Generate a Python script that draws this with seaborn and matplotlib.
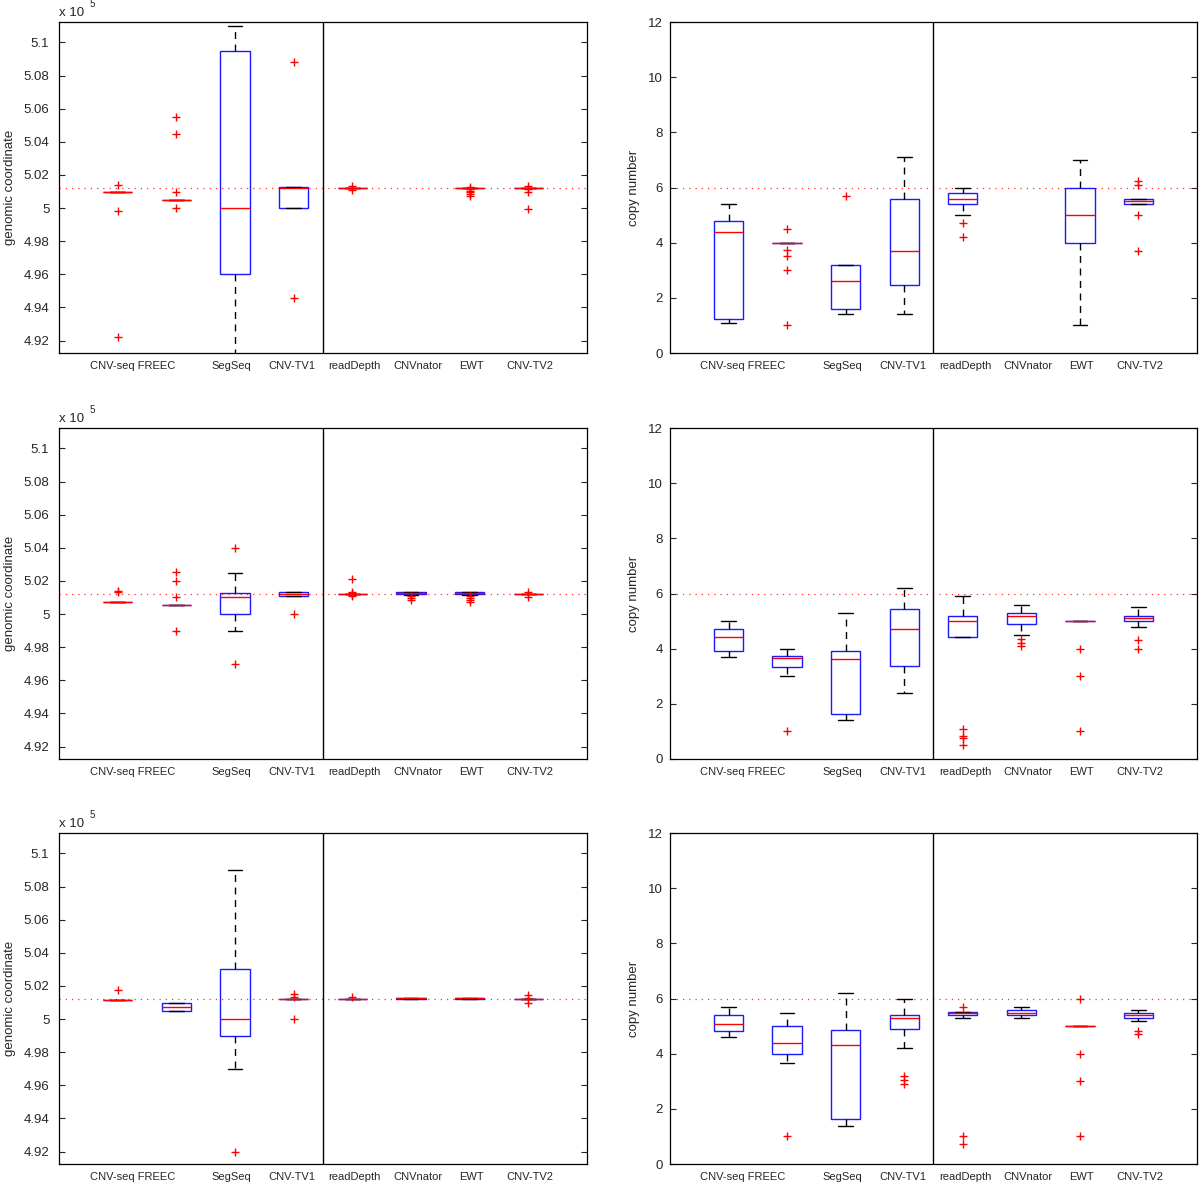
import numpy as np
import pandas as pd
import matplotlib
matplotlib.use("Agg")
import matplotlib.pyplot as plt
import seaborn as sns
from matplotlib.ticker import MultipleLocator, FuncFormatter

# ---------------- data ----------------
methods = ["CNV-seq", "FREEC", "SegSeq", "CNV-TV1", "readDepth", "CNVnator", "EWT", "CNV-TV2"]
label_text = ["CNV-seq FREEC", "SegSeq", "CNV-TV1", "readDepth", "CNVnator", "EWT", "CNV-TV2"]
label_pos = [0.25, 1.94, 2.97, 4.04, 5.12, 6.03, 7.03]

true_coord = 501220
true_copy = 6

# Row 1, genomic coordinate
coord1_lo = [501000, 500500, 490000, 500000, 501220, None, 501220, 501220]
coord1_q1 = [501000, 500500, 496000, 500000, 501220, None, 501220, 501220]
coord1_med = [501000, 500500, 500000, 501220, 501220, None, 501220, 501220]
coord1_q3 = [501000, 500500, 509500, 501300, 501220, None, 501220, 501220]
coord1_hi = [501000, 500500, 511000, 501300, 501220, None, 501220, 501220]
coord1_out = [[501400, 499800, 492200], [505500, 504500, 501000, 500000], [],
              [508800, 494600], [501350, 501100], [],
              [501300, 501150, 501050, 500950, 500850, 500750],
              [501340, 501140, 500940, 499960]]

# Row 1, copy number
copy1_lo = [1.1, 4.0, 1.4, 1.4, 5.0, None, 1.0, 5.4]
copy1_q1 = [1.25, 4.0, 1.6, 2.45, 5.4, None, 4.0, 5.4]
copy1_med = [4.4, 4.0, 2.6, 3.7, 5.6, None, 5.0, 5.5]
copy1_q3 = [4.8, 4.0, 3.2, 5.6, 5.8, None, 6.0, 5.6]
copy1_hi = [5.4, 4.0, 3.2, 7.1, 6.0, None, 7.0, 5.6]
copy1_out = [[], [4.5, 3.72, 3.5, 3.0, 1.0], [5.7], [], [4.7, 4.2], [], [],
             [6.24, 6.1, 5.0, 3.7]]

# Row 2, genomic coordinate
coord2_lo = [500720, 500520, 499000, 501100, 501240, 501140, 501140, 501240]
coord2_q1 = [500720, 500520, 500030, 501100, 501240, 501200, 501200, 501240]
coord2_med = [500720, 500520, 501020, 501220, 501240, 501260, 501250, 501240]
coord2_q3 = [500720, 500520, 501300, 501340, 501240, 501320, 501320, 501240]
coord2_hi = [500720, 500520, 502450, 501340, 501240, 501320, 501320, 501240]
coord2_out = [[501420, 501350], [502550, 502000, 501000, 499000], [504000, 497000],
              [500000], [502100, 501350, 501300, 501150, 501100],
              [501100, 500980, 500860], [501080, 500950, 500850, 500750],
              [501340, 501020]]

# Row 2, copy number
copy2_lo = [3.68, 3.0, 1.4, 2.4, 4.41, 4.5, 5.0, 4.8]
copy2_q1 = [3.92, 3.34, 1.62, 3.38, 4.41, 4.9, 5.0, 5.0]
copy2_med = [4.41, 3.67, 3.61, 4.71, 5.0, 5.2, 5.0, 5.1]
copy2_q3 = [4.71, 3.75, 3.9, 5.44, 5.19, 5.31, 5.0, 5.2]
copy2_hi = [5.0, 4.0, 5.31, 6.2, 5.9, 5.6, 5.0, 5.5]
copy2_out = [[], [1.0], [], [], [1.1, 0.85, 0.75, 0.5], [4.35, 4.2, 4.1],
             [4.0, 3.0, 1.0], [4.32, 4.0]]

# Row 3, genomic coordinate
coord3_lo = [501180, 500500, 497000, 501220, 501220, 501200, 501200, 501220]
coord3_q1 = [501180, 500500, 499000, 501220, 501220, 501200, 501200, 501220]
coord3_med = [501180, 500740, 500000, 501220, 501220, 501250, 501250, 501220]
coord3_q3 = [501180, 501000, 503000, 501220, 501220, 501300, 501300, 501220]
coord3_hi = [501180, 501000, 509000, 501220, 501220, 501300, 501300, 501220]
coord3_out = [[501780], [], [492000], [501500, 501340, 500000], [501340], [], [],
              [501440, 501280, 500980]]

# Row 3, copy number
copy3_lo = [4.59, 3.65, 1.39, 4.19, 5.3, 5.29, 5.0, 5.19]
copy3_q1 = [4.82, 4.0, 1.62, 4.89, 5.42, 5.41, 5.0, 5.3]
copy3_med = [5.09, 4.39, 4.3, 5.3, 5.47, 5.49, 5.0, 5.4]
copy3_q3 = [5.41, 4.99, 4.87, 5.4, 5.5, 5.57, 5.0, 5.49]
copy3_hi = [5.7, 5.49, 6.2, 6.0, 5.5, 5.7, 5.0, 5.59]
copy3_out = [[], [1.0], [], [3.2, 3.05, 2.9], [5.71, 1.01, 0.72], [],
             [6.0, 4.0, 3.0, 1.0], [4.83, 4.71]]

# ---------------- style ----------------
sns.set_style("white")
plt.rcParams["font.family"] = ["Liberation Sans", "DejaVu Sans"]
plt.rcParams["axes.edgecolor"] = "black"
plt.rcParams["axes.linewidth"] = 0.9


def five_number_frame(lo, q1, med, q3, hi):
    rows = []
    for m, a, b, c, d, e in zip(methods, lo, q1, med, q3, hi):
        if c is None:
            continue
        for v in (a, b, c, d, e):
            rows.append((m, v))
    return pd.DataFrame(rows, columns=["method", "value"])


def outlier_frame(out):
    rows = [(m, v) for m, vals in zip(methods, out) for v in vals]
    return pd.DataFrame(rows, columns=["method", "value"])


def draw(ax, lo, q1, med, q3, hi, out, ref):
    ax.axhline(ref, color="#ff3030", linestyle=(0, (1, 4)), linewidth=0.9, zorder=0.5)
    sns.boxplot(data=five_number_frame(lo, q1, med, q3, hi), x="method", y="value",
                order=methods, ax=ax, width=0.5, whis=(0, 100), showfliers=False,
                fill=True, linewidth=1.0,
                boxprops=dict(facecolor="none", edgecolor="#1a1aff"),
                medianprops=dict(color="#ff0000"),
                whiskerprops=dict(color="black", linestyle=(0, (5, 4))),
                capprops=dict(color="black"))
    sns.stripplot(data=outlier_frame(out), x="method", y="value", order=methods,
                  ax=ax, jitter=False, marker="+", color="#ff0000", size=6,
                  linewidth=1.0)
    ax.axvline(3.5, color="black", linewidth=1.0)
    ax.set_xlim(-1, 8)
    ax.set_xticks(label_pos, label_text)
    ax.tick_params(axis="x", length=0, pad=6, labelsize=8)
    ax.tick_params(axis="y", direction="in", left=True, right=True, length=4,
                   width=0.8, labelsize=9.5)
    ax.set_xlabel("")
    for s in ax.spines.values():
        s.set_visible(True)
        s.set_color("black")


fig = plt.figure(figsize=(12, 11.85), dpi=100)

row_bottoms = [0.7021, 0.3595, 0.0177]
row_h = 0.2793
left_x, left_w = 0.0492, 0.4400
right_x, right_w = 0.5583, 0.4392

coord_sets = [
    (coord1_lo, coord1_q1, coord1_med, coord1_q3, coord1_hi, coord1_out),
    (coord2_lo, coord2_q1, coord2_med, coord2_q3, coord2_hi, coord2_out),
    (coord3_lo, coord3_q1, coord3_med, coord3_q3, coord3_hi, coord3_out),
]
copy_sets = [
    (copy1_lo, copy1_q1, copy1_med, copy1_q3, copy1_hi, copy1_out),
    (copy2_lo, copy2_q1, copy2_med, copy2_q3, copy2_hi, copy2_out),
    (copy3_lo, copy3_q1, copy3_med, copy3_q3, copy3_hi, copy3_out),
]

for rb, cs, ps in zip(row_bottoms, coord_sets, copy_sets):
    axl = fig.add_axes([left_x, rb, left_w, row_h])
    draw(axl, *cs, true_coord)
    axl.set_ylim(491250, 511230)
    axl.yaxis.set_major_locator(MultipleLocator(2000))
    axl.yaxis.set_major_formatter(FuncFormatter(lambda v, p: f"{round(v / 1e5, 4):g}"))
    axl.tick_params(axis="y", pad=7)
    axl.set_ylabel("genomic coordinate", fontsize=9.5)
    axl.yaxis.set_label_coords(-0.082, 0.5)
    axl.text(0.0, 1.027, "x 10", transform=axl.transAxes, fontsize=9.5,
             ha="left", va="center")
    axl.text(0.0587, 1.054, "5", transform=axl.transAxes, fontsize=7,
             ha="left", va="center")

    axr = fig.add_axes([right_x, rb, right_w, row_h])
    draw(axr, *ps, true_copy)
    axr.set_ylim(0, 12)
    axr.yaxis.set_major_locator(MultipleLocator(2))
    axr.tick_params(axis="y", pad=5)
    axr.set_ylabel("copy number", fontsize=9.5)
    axr.yaxis.set_label_coords(-0.057, 0.5)

fig.savefig("out.png", dpi=100)
